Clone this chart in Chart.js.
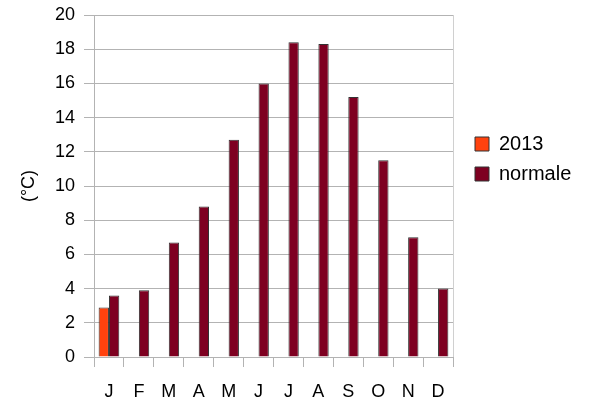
<!DOCTYPE html>
<html>
<head>
<meta charset="utf-8">
<script src="https://cdn.jsdelivr.net/npm/chart.js@4.4.0/dist/chart.umd.min.js"></script>
<style>
  html, body { margin: 0; padding: 0; background: #fff; }
  #wrap { width: 593px; height: 407px; }
</style>
</head>
<body>
<div id="wrap"><canvas id="tempChart" width="593" height="407"></canvas></div>
<script>
const months = ["J", "F", "M", "A", "M", "J", "J", "A", "S", "O", "N", "D"];
const temps2013 = [2.9, null, null, null, null, null, null, null, null, null, null, null];
const tempsNormale = [3.6, 3.9, 6.7, 8.8, 12.7, 16.0, 18.4, 18.3, 15.2, 11.5, 7.0, 4.0];
const yTicks = [0, 2, 4, 6, 8, 10, 12, 14, 16, 18, 20];

const font = { family: "'Liberation Sans', Arial, sans-serif", size: 18 };
const legendFont = { family: "'Liberation Sans', Arial, sans-serif", size: 20 };

// put the legend where the original has it (right of the plot, above centre)
const legendShift = {
    id: "legendShift",
    afterLayout(chart) {
        const lg = chart.legend;
        lg.left = 465;
        lg.right = chart.width;
        const dy = 124 - lg.top;
        lg.top += dy;
        lg.bottom += dy;
    }
};

const ctx = document.getElementById("tempChart").getContext("2d");
new Chart(ctx, {
    type: "bar",
    data: {
        labels: months,
        datasets: [
            {
                label: "2013",
                data: temps2013,
                backgroundColor: "#ff420e",
                borderColor: "#333",
                borderWidth: 1,
            },
            {
                label: "normale",
                data: tempsNormale,
                backgroundColor: "#7e0021",
                borderColor: "#333",
                borderWidth: 1,
            },
        ],
    },
    plugins: [legendShift],
    options: {
        responsive: false,
        animation: false,
        layout: { padding: { left: 18, top: 15, right: 53, bottom: 6 } },
        datasets: {
            bar: { barPercentage: 1.0, categoryPercentage: 0.69 },
        },
        plugins: {
            tooltip: { enabled: false },
            legend: {
                position: "right",
                align: "start",
                labels: {
                    color: "#000",
                    font: legendFont,
                    boxWidth: 14,
                    boxHeight: 14,
                    padding: 10,
                },
            },
        },
        scales: {
            y: {
                min: 0,
                max: 20,
                afterFit: function (scale) {
                    scale.width = 76;
                    scale.paddingTop = 0;
                    scale.paddingBottom = 0;
                },
                afterBuildTicks: function (scale) {
                    scale.ticks = yTicks.map(v => ({ value: v }));
                },
                title: {
                    display: true,
                    text: "(°C)",
                    color: "#000",
                    font: font,
                    padding: { top: 0, bottom: 4 },
                },
                ticks: { color: "#000", font: font, padding: 9 },
                grid: { color: "#b3b3b3", tickLength: 10, tickColor: "#b3b3b3" },
                border: { color: "#b3b3b3" },
            },
            y2: {
                position: "right",
                min: 0,
                max: 20,
                afterFit: function (scale) {
                    scale.width = 0;
                    scale.paddingTop = 0;
                    scale.paddingBottom = 0;
                },
                ticks: { display: false },
                grid: { display: false },
                border: { color: "#d0d0d0" },
            },
            x: {
                afterFit: function (scale) { scale.height = 44; },
                ticks: { color: "#000", font: font, padding: 14 },
                grid: {
                    color: "#b3b3b3",
                    tickLength: 10,
                    tickColor: "#b3b3b3",
                    offset: true,
                    drawOnChartArea: false,
                },
                border: { color: "#b3b3b3" },
            },
        },
    },
});
</script>
</body>
</html>
